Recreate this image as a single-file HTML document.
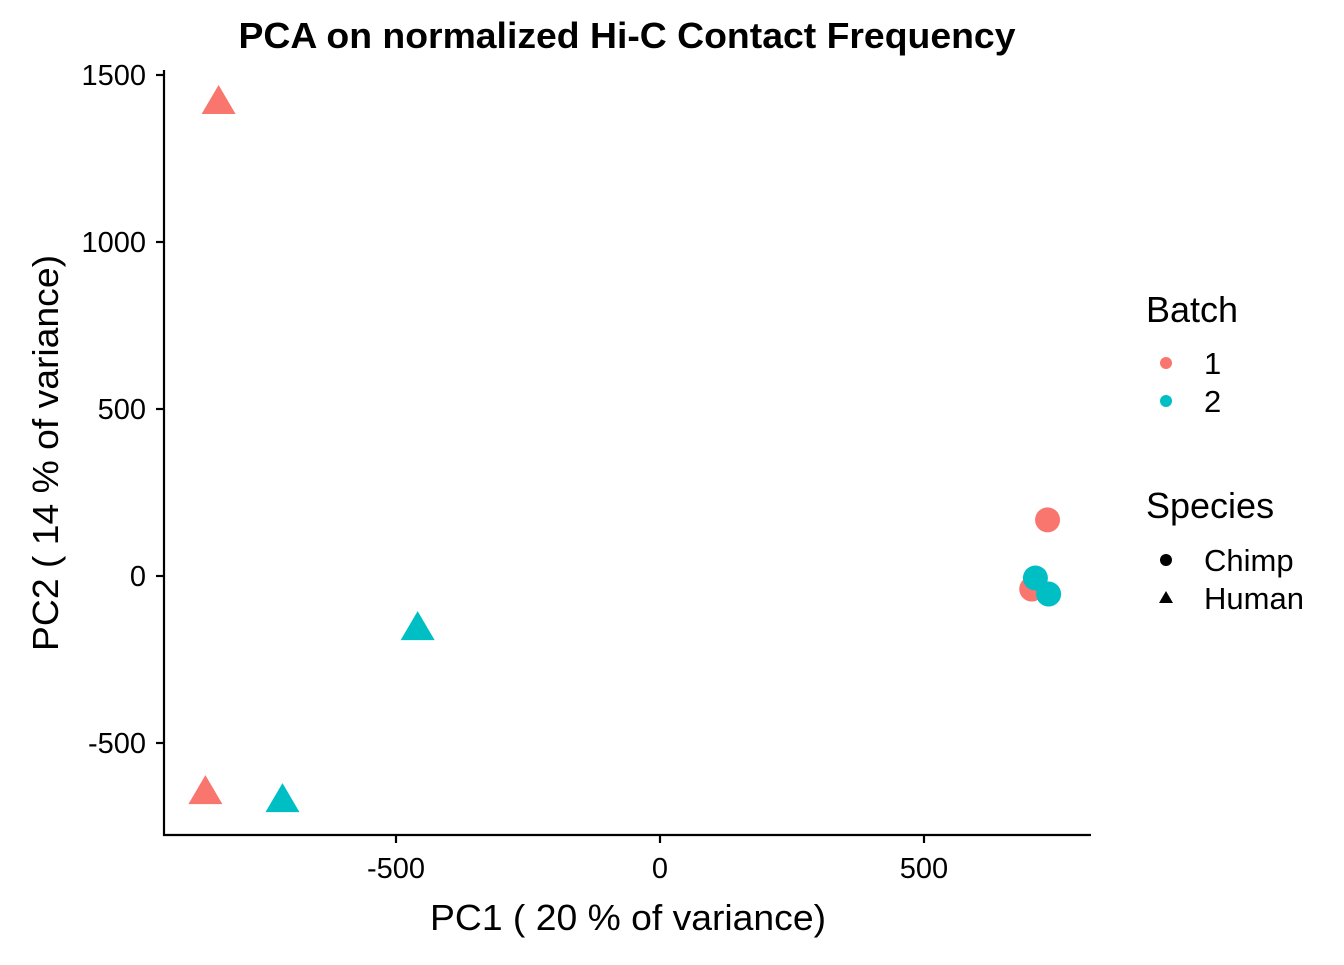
<!DOCTYPE html>
<html><head><meta charset="utf-8"><style>
body{margin:0;background:#fff;}
svg text{font-family:"Liberation Sans",Arial,sans-serif;fill:#000;}
</style></head><body>
<svg id="chart" width="1344" height="960" viewBox="0 0 1344 960">
<text x="627" y="48" text-anchor="middle" font-size="36" font-weight="bold" textLength="777" lengthAdjust="spacingAndGlyphs">PCA on normalized Hi-C Contact Frequency</text>
<g id="axes"></g>
<g id="points"></g>
<text x="628" y="930" text-anchor="middle" font-size="36" textLength="396" lengthAdjust="spacingAndGlyphs">PC1 ( 20 % of variance)</text>
<text transform="translate(58,453) rotate(-90)" text-anchor="middle" font-size="36" textLength="396" lengthAdjust="spacingAndGlyphs">PC2 ( 14 % of variance)</text>
<g>
<text x="1146" y="322" font-size="36">Batch</text>
<circle cx="1166" cy="363" r="6" fill="#F8766D"/>
<text x="1204" y="374" font-size="31">1</text>
<circle cx="1166" cy="401" r="6" fill="#00BFC4"/>
<text x="1204" y="412" font-size="31">2</text>
</g>
<g>
<text x="1146" y="518" font-size="36">Species</text>
<circle cx="1166" cy="560" r="6" fill="#000"/>
<text x="1204" y="571" font-size="31">Chimp</text>
<polygon points="1166,591 1173,603 1159,603" fill="#000"/>
<text x="1204" y="609" font-size="31">Human</text>
</g>
</svg>
<script>
const xTicks=[-500,0,500];
const yTicks=[-500,0,500,1000,1500];
const pc1=[-836,-861,-715,-459,734,704,711,736];
const pc2=[1419,-647,-671,-156,168,-39,-6,-54];
const batch=[1,1,2,2,1,1,2,2];
const species=["Human","Human","Human","Human","Chimp","Chimp","Chimp","Chimp"];
const colors={1:"#F8766D",2:"#00BFC4"};
const NS="http://www.w3.org/2000/svg";
const sx=v=>660+v*264/500;
const sy=v=>576-v*167/500;
function mk(t,a,p){const e=document.createElementNS(NS,t);for(const k in a)e.setAttribute(k,a[k]);p.appendChild(e);return e;}
const ax=document.getElementById('axes');
let l=mk('line',{x1:164,y1:70,x2:164,y2:836,stroke:'#000','stroke-width':2.2},ax);


l=mk('line',{x1:163,y1:835,x2:1091,y2:835,stroke:'#000','stroke-width':2.2},ax);


xTicks.forEach(v=>{
 const t=mk('line',{x1:sx(v),y1:835,x2:sx(v),y2:843,stroke:'#000','stroke-width':2.2},ax);
 
 
 const tx=mk('text',{x:sx(v),y:878,'text-anchor':'middle','font-size':29},ax);
 tx.textContent=v;
 
 
});
yTicks.forEach(v=>{
 const t=mk('line',{x1:156,y1:sy(v),x2:164,y2:sy(v),stroke:'#000','stroke-width':2.2},ax);
 
 
 const tx=mk('text',{x:146,y:sy(v)+10,'text-anchor':'end','font-size':29},ax);
 tx.textContent=v;
 
 
});
const pg=document.getElementById('points');
const order=[...pc1.keys()].sort((a,b)=>batch[a]-batch[b]);
order.forEach(i=>{
 const x=sx(pc1[i]),y=sy(pc2[i]);let e;
 if(species[i]==="Chimp") e=mk('circle',{cx:x,cy:y,r:12.5,fill:colors[batch[i]]},pg);
 else e=mk('polygon',{points:`${x},${y-17} ${x+17},${y+12} ${x-17},${y+12}`,fill:colors[batch[i]]},pg);
 
 
});
</script>
</body></html>
